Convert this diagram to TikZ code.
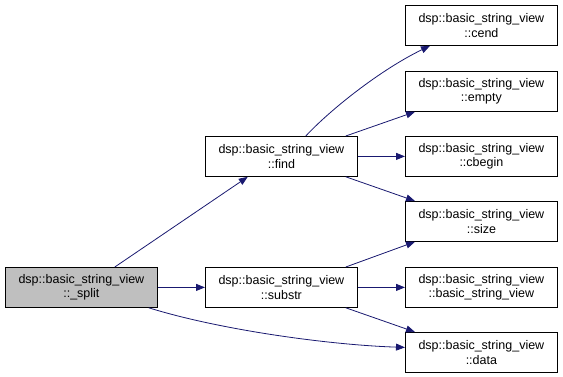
\documentclass[tikz,border=0pt]{standalone}
\usepackage{fontspec}
\setmainfont{Liberation Sans}
\usetikzlibrary{arrows.meta}
\definecolor{edgeblue}{HTML}{191970}
\definecolor{hlgray}{HTML}{BFBFBF}
\tikzset{
  fn/.style={draw=black, fill=white, line width=0.8pt, minimum width=152pt, minimum height=40pt,
    inner sep=0pt, align=center, font=\fontsize{12.5}{14.5}\selectfont, anchor=north west},
  cur/.style={fn, fill=hlgray},
  call/.style={draw=edgeblue, line width=0.8pt, -{Triangle[length=9pt,width=7pt]}},
}
\begin{document}
\begin{tikzpicture}[x=1pt,y=-1pt]
\useasboundingbox (0,0) rectangle (563,377);
% functions
\node[cur] (split) at (5,267)   {dsp::basic\_string\_view\\::\_split};
\node[fn]  (find)  at (205,136) {dsp::basic\_string\_view\\::find};
\node[fn]  (sub)   at (205,267) {dsp::basic\_string\_view\\::substr};
\node[fn]  (cend)  at (405,5)   {dsp::basic\_string\_view\\::cend};
\node[fn]  (empty) at (405,71)  {dsp::basic\_string\_view\\::empty};
\node[fn]  (cbeg)  at (405,136) {dsp::basic\_string\_view\\::cbegin};
\node[fn]  (size)  at (405,201) {dsp::basic\_string\_view\\::size};
\node[fn]  (ctor)  at (405,267) {dsp::basic\_string\_view\\::basic\_string\_view};
\node[fn]  (data)  at (405,332) {dsp::basic\_string\_view\\::data};
% calls
\draw[call] ([xshift=-43pt]split.north east) -- ([xshift=-110pt]find.south east);
\draw[call] (split.east) -- (sub.west);
\draw[call] ([xshift=-9pt]split.south east) .. controls (220,330) and (330,345) .. ([yshift=5pt]data.west);
\draw[call] ([xshift=-52pt]find.north east) .. controls (330,110) and (380,70) .. ([xshift=25pt]cend.south west);
\draw[call] ([xshift=-12pt]find.north east) -- ([xshift=10pt]empty.south west);
\draw[call] (find.east) -- (cbeg.west);
\draw[call] ([xshift=-12pt]find.south east) -- ([xshift=10pt]size.north west);
\draw[call] ([xshift=-12pt]sub.north east) -- ([xshift=10pt]size.south west);
\draw[call] (sub.east) -- (ctor.west);
\draw[call] ([xshift=-12pt]sub.south east) -- ([xshift=10pt]data.north west);
\end{tikzpicture}
\end{document}
